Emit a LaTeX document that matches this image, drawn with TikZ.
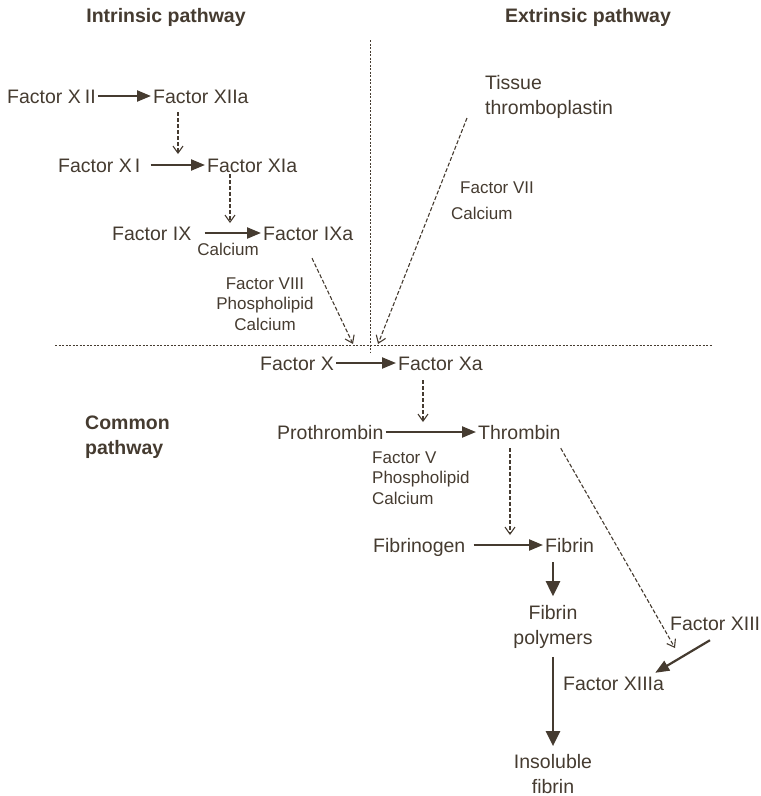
\documentclass[tikz,border=0pt]{standalone}
\usepackage{fontspec}
\setmainfont{Liberation Sans}
\usetikzlibrary{arrows.meta,calc}
\definecolor{ink}{HTML}{453B30}
\begin{document}
\begin{tikzpicture}[x=1pt,y=-1pt,
  every node/.style={text=ink, inner sep=2pt},
  lbl/.style={font=\fontsize{19.5}{25}\selectfont, anchor=west, text height=14pt, text depth=0pt},
  lblm/.style={font=\fontsize{19.5}{25}\selectfont},
  sml/.style={font=\fontsize{17}{20.5}\selectfont},
  hdr/.style={font=\fontsize{19.5}{25}\selectfont\bfseries},
  solidarrow/.style={draw=ink, line width=2.2pt, -{Triangle[length=14pt,width=11pt]}},
  bigarrow/.style={draw=ink, line width=2.6pt, -{Triangle[length=15pt,width=14pt]}},
  dasharrow/.style={draw=ink, line width=1.1pt, dash pattern=on 4pt off 2pt, -{Straight Barb[length=7pt,width=10pt]}},
  guide/.style={draw=ink, line width=0.8pt, dash pattern=on 2pt off 1.5pt},
]
\useasboundingbox (0,0) rectangle (761,796);

% headers
\node[hdr] (hi) at (166,17) {Intrinsic pathway};
\node[hdr] (he) at (588,17) {Extrinsic pathway};
\node[hdr, align=left, anchor=west] (hc) at (83,437) {Common\\pathway};

% guide lines
\coordinate (vt) at (370,40);
\coordinate (vb) at (370,352);
\coordinate (hl) at (55,345);
\coordinate (hr) at (713,345);
\draw[guide] (vt) -- (vb);
\draw[guide] (hl) -- (hr);

% intrinsic
\node[lbl] (f12) at (5,96) {Factor X\kern4pt II};
\node[lbl] (f12a) at (151,96) {Factor XIIa};
\node[lbl] (f11) at (56,165) {Factor X\kern3pt I};
\node[lbl] (f11a) at (205,165) {Factor XIa};
\node[lbl] (f9) at (110,233) {Factor IX};
\node[lbl] (f9a) at (261,233) {Factor IXa};
\node[sml] (cal1) at (228,249) {Calcium};
\node[sml, align=center] (f8) at (265,304) {Factor VIII\\Phospholipid\\Calcium};

% extrinsic
\node[lblm, align=left, anchor=west] (tt) at (483,97) {Tissue\\thromboplastin};
\node[sml, anchor=west] (f7) at (458,188) {Factor VII};
\node[sml, anchor=west] (cal2) at (449,213) {Calcium};

% common
\node[lbl] (fx) at (258,363) {Factor X};
\node[lbl] (fxa) at (396,363) {Factor Xa};
\node[lbl] (pro) at (275,432) {Prothrombin};
\node[lbl] (thr) at (476,432) {Thrombin};
\node[sml, align=left, anchor=west] (f5) at (370,478) {Factor V\\Phospholipid\\Calcium};
\node[lbl] (fbg) at (371,545) {Fibrinogen};
\node[lbl] (fib) at (543,545) {Fibrin};
\node[lblm, align=center] (poly) at (553,627) {Fibrin\\polymers};
\node[lblm, align=center] (ins) at (553,774) {Insoluble\\fibrin};
\node[lbl] (f13) at (668,623) {Factor XIII};
\node[lbl] (f13a) at (561,683) {Factor XIIIa};

% junction coordinates
\coordinate (j1) at (178,154);
\coordinate (j2) at (230,223);
\coordinate (j3) at (353,344);
\coordinate (j4) at (378,344);
\coordinate (j5) at (423,422);
\coordinate (j6) at (510,535);
\coordinate (j7) at (675,648);

% solid arrows
\draw[solidarrow] (f12.east) -- (f12a.west);
\draw[solidarrow, shorten <=8pt] (f11.east) -- (f11a.west);
\draw[solidarrow, shorten <=11pt] (f9.east) -- (f9a.west);
\draw[solidarrow] (fx.east) -- (fxa.west);
\draw[solidarrow] (pro.east) -- (thr.west);
\draw[solidarrow, shorten <=6pt] (fbg.east) -- (fib.west);
\draw[bigarrow] ($(fib.south west)+(10,8)$) -- ($(poly.north)+(0,-7)$);
\draw[bigarrow, shorten <=6pt, shorten >=6pt] (poly) -- (ins);
\draw[solidarrow] ($(f13.south west)+(42,8)$) -- ($(f13a.north east)+(-11,-1)$);

% dashed arrows
\draw[dasharrow] ($(f12a.south west)+(27,7)$) -- (j1);
\draw[dasharrow] ($(f11a.south west)+(25,0)$) -- (j2);
\draw[dasharrow] ($(f9a.south west)+(51,16)$) -- (j3);
\draw[dasharrow] ($(tt.west)+(-16,21)$) -- (j4);
\draw[dasharrow] ($(fxa.south west)+(27,8)$) -- (j5);
\draw[dasharrow] ($(thr.south west)+(34,7)$) -- (j6);
\draw[dasharrow] ($(thr.south east)+(-2,7)$) -- (j7);
\end{tikzpicture}
\end{document}
